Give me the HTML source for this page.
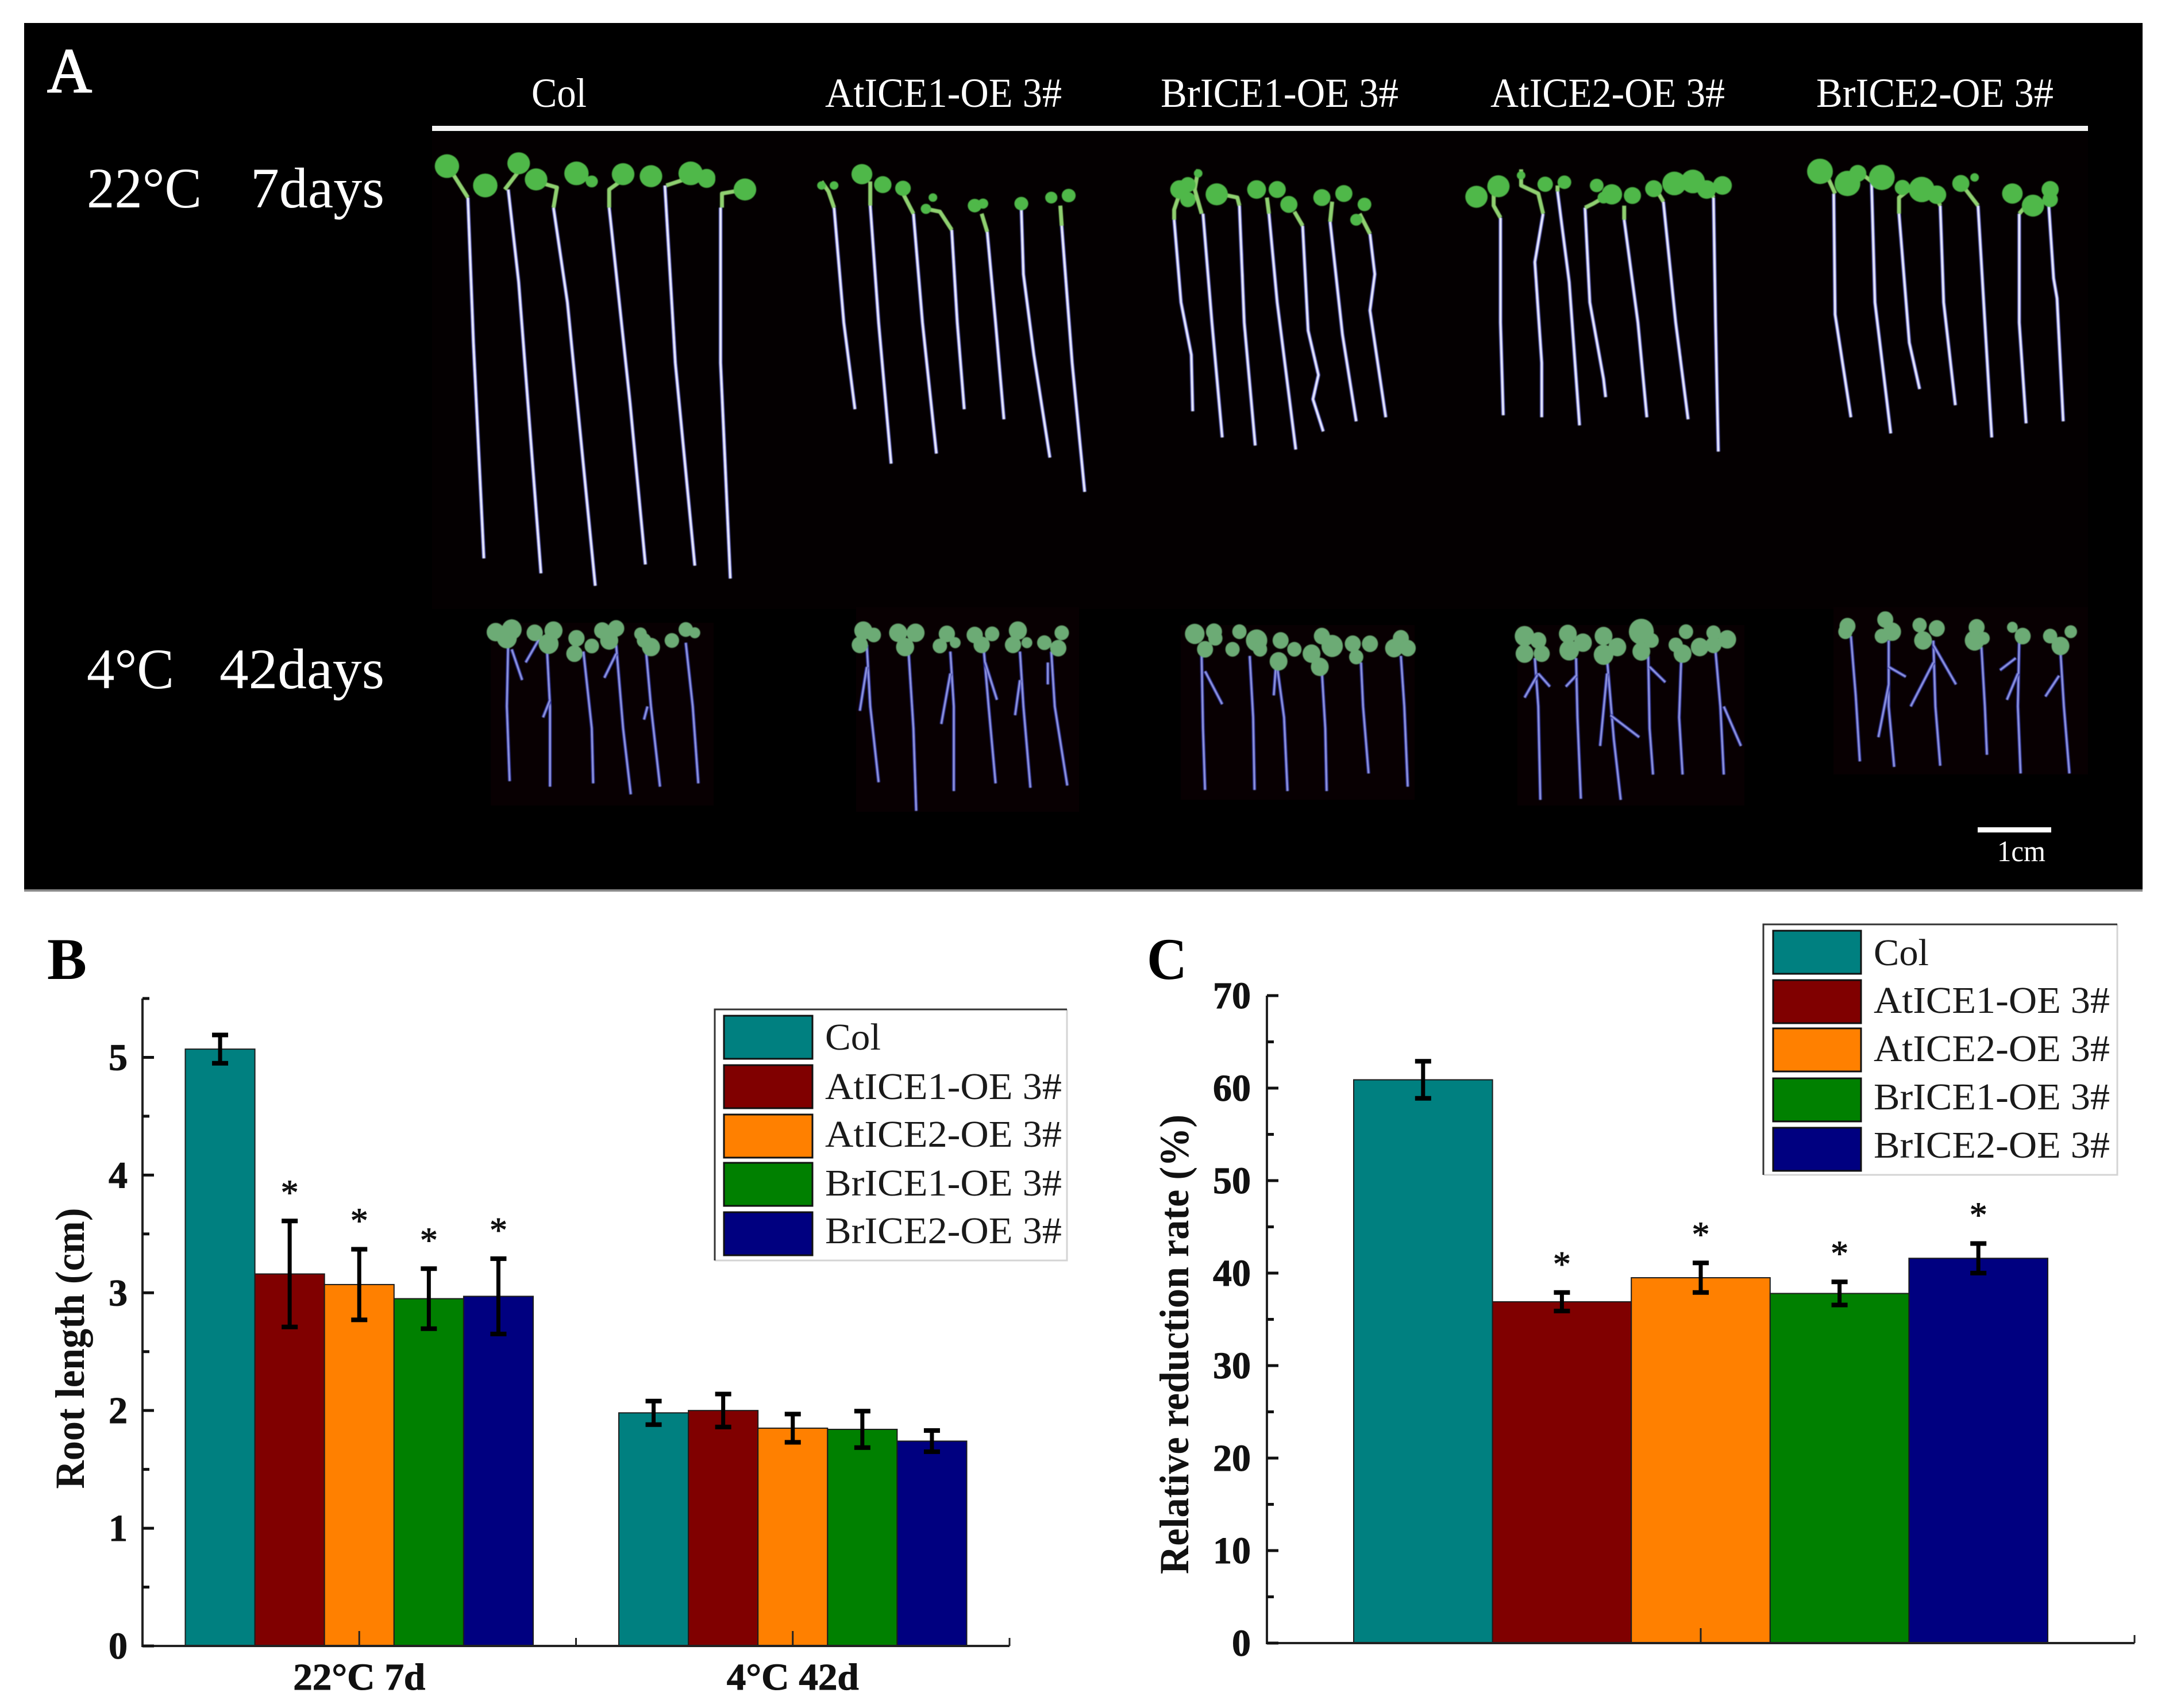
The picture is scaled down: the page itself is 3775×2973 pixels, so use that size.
<!DOCTYPE html>
<html lang="en">
<head>
<meta charset="utf-8">
<title>Root length of ICE over-expression lines</title>
<style>
html,body{margin:0;padding:0;background:#fff;}
svg{display:block;}
text{font-family:"Liberation Serif",serif;}
</style>
</head>
<body>
<svg id="figure" xmlns="http://www.w3.org/2000/svg" width="3775" height="2973" viewBox="0 0 3775 2973">
  <defs>
    <filter id="soft" x="0" y="0" width="100%" height="100%" filterUnits="userSpaceOnUse" primitiveUnits="userSpaceOnUse"><feGaussianBlur stdDeviation="0.9"/></filter>
  </defs>
  <rect width="3775" height="2973" fill="#fff"/>
  <g id="panel-a">
    <rect x="42" y="1547" width="3687" height="5" fill="#8a8a8a"/>
    <rect x="42" y="40" width="3687" height="1508" fill="#000"/>
    <rect x="752" y="230" width="2882" height="830" fill="#040001"/>
    <rect x="854" y="1084" width="388" height="318" fill="#080002"/>
    <rect x="1490" y="1057" width="388" height="356" fill="#080002"/>
    <rect x="2055" y="1088" width="407" height="304" fill="#080002"/>
    <rect x="2641" y="1088" width="395" height="314" fill="#080002"/>
    <rect x="3191" y="1057" width="443" height="291" fill="#080002"/>
    <text x="82" y="160" font-size="110" fill="#fff" stroke="#fff" stroke-width="2" textLength="78" lengthAdjust="spacingAndGlyphs">A</text>
    <text x="925" y="186" font-size="72" fill="#fff" textLength="96" lengthAdjust="spacingAndGlyphs">Col</text>
    <text x="1436" y="186" font-size="72" fill="#fff" textLength="412" lengthAdjust="spacingAndGlyphs">AtICE1-OE 3#</text>
    <text x="2020" y="186" font-size="72" fill="#fff" textLength="414" lengthAdjust="spacingAndGlyphs">BrICE1-OE 3#</text>
    <text x="2594" y="186" font-size="72" fill="#fff" textLength="408" lengthAdjust="spacingAndGlyphs">AtICE2-OE 3#</text>
    <text x="3161" y="186" font-size="72" fill="#fff" textLength="413" lengthAdjust="spacingAndGlyphs">BrICE2-OE 3#</text>
    <rect x="752" y="219" width="2882" height="9" fill="#f4f4f4"/>
    <text x="151" y="361" font-size="100" fill="#fff" textLength="200" lengthAdjust="spacingAndGlyphs">22°C</text>
    <text x="436" y="361" font-size="100" fill="#fff" textLength="233" lengthAdjust="spacingAndGlyphs">7days</text>
    <text x="151" y="1198" font-size="100" fill="#fff" textLength="152" lengthAdjust="spacingAndGlyphs">4°C</text>
    <text x="382" y="1198" font-size="100" fill="#fff" textLength="287" lengthAdjust="spacingAndGlyphs">42days</text>
    <rect x="3442" y="1440" width="128" height="9" fill="#fff"/>
    <text x="3476" y="1499" font-size="52" fill="#fff" textLength="84" lengthAdjust="spacingAndGlyphs">1cm</text>
    <g filter="url(#soft)">
      <g id="seedlings-left-top" transform="scale(1.2117,0.7018)"></g>
      <g id="seedlings-right-top" transform="translate(1900,0) scale(1.1958,0.7018)"></g>
      <g id="seedlings-left-bottom" transform="translate(0,1000) scale(1.2117,0.3827)"></g>
      <g id="seedlings-right-bottom" transform="translate(1900,1000) scale(1.1958,0.3827)"></g>
    </g>
  </g>
  <text x="82" y="1704" font-size="103" font-weight="700" fill="#000" textLength="69" lengthAdjust="spacingAndGlyphs">B</text>
  <text x="1996" y="1704" font-size="103" font-weight="700" fill="#000" textLength="70" lengthAdjust="spacingAndGlyphs">C</text>
  <g id="chart-b"></g>
  <g id="chart-c"></g>
</svg>
<script>
// ---- Chart data: series shared by both charts ----
const seriesNames = ['Col', 'AtICE1-OE 3#', 'AtICE2-OE 3#', 'BrICE1-OE 3#', 'BrICE2-OE 3#'];
const seriesColors = ['#008080', '#800000', '#ff8000', '#008000', '#000080'];

// ---- Chart B: root length (cm) ----
const rootCategories = ['22°C 7d', '4°C 42d'];
const rootTicks = [0, 1, 2, 3, 4, 5];
const rootMinorTicks = [0.5, 1.5, 2.5, 3.5, 4.5, 5.5];
const rootCol = [5.07, 1.98];
const rootAtIce1 = [3.16, 2.00];
const rootAtIce2 = [3.07, 1.85];
const rootBrIce1 = [2.95, 1.84];
const rootBrIce2 = [2.97, 1.74];
const rootColErr = [0.12, 0.10];
const rootAtIce1Err = [0.45, 0.14];
const rootAtIce2Err = [0.30, 0.12];
const rootBrIce1Err = [0.255, 0.155];
const rootBrIce2Err = [0.32, 0.09];
const rootSignificant = [[0, 0], [1, 0], [1, 0], [1, 0], [1, 0]];

// ---- Chart C: relative reduction rate (%) ----
const reductionCategories = [''];
const reductionTicks = [0, 10, 20, 30, 40, 50, 60, 70];
const reductionMinorTicks = [5, 15, 25, 35, 45, 55, 65];
const reductionValues = [60.9, 36.9, 39.5, 37.8, 41.6];
const reductionErrors = [2.0, 1.0, 1.6, 1.25, 1.6];
const reductionSignificant = [0, 1, 1, 1, 1];

const SVGNS = 'http://www.w3.org/2000/svg';
function make(tag, parent, attrs, txt) {
  const e = document.createElementNS(SVGNS, tag);
  for (const k in attrs) e.setAttribute(k, attrs[k]);
  if (txt !== undefined) e.textContent = txt;
  parent.appendChild(e);
  return e;
}

function drawChart(root, cfg) {
  const yScale = v => cfg.y0 - (v - cfg.yMin) * (cfg.y0 - cfg.yTop) / (cfg.yMax - cfg.yMin);
  const band = (cfg.x1 - cfg.x0) / cfg.categories.length;
  const xScale = i => cfg.x0 + band * (i + 0.5);
  const barW = band * cfg.barFrac;

  // bars
  cfg.series.forEach((vals, s) => {
    vals.forEach((v, c) => {
      const left = xScale(c) + (s - 2.5) * barW;
      const bar = make('rect', root, { x: left, y: yScale(v), width: barW, height: cfg.y0 - yScale(v), fill: seriesColors[s], stroke: '#1c1c1c', 'stroke-width': 2 });
      
      
    });
  });

  // axis lines
  const yAxis = make('line', root, { x1: cfg.x0, x2: cfg.x0, y1: cfg.yTop, y2: cfg.y0 + 2, stroke: '#222', 'stroke-width': 4 });
  
  
  const xAxis = make('line', root, { x1: cfg.x0, x2: cfg.x1, y1: cfg.y0, y2: cfg.y0, stroke: '#222', 'stroke-width': 4 });
  
  

  // y ticks + labels
  cfg.ticks.forEach(t => {
    const tick = make('line', root, { x1: cfg.x0, x2: cfg.x0 + 20, y1: yScale(t), y2: yScale(t), stroke: '#111', 'stroke-width': 5 });
    
    
    const label = make('text', root, { x: cfg.x0 - cfg.labelGap, y: yScale(t) + 22, 'text-anchor': 'end', 'font-size': 66, 'font-weight': 700, fill: '#111', stroke: '#111', 'stroke-width': 1 }, String(t));
    
    
  });
  cfg.minorTicks.forEach(t => {
    const tick = make('line', root, { x1: cfg.x0, x2: cfg.x0 + 12, y1: yScale(t), y2: yScale(t), stroke: '#111', 'stroke-width': 5 });
    
    
  });

  // x ticks + labels
  cfg.categories.forEach((name, c) => {
    const tick = make('line', root, { x1: xScale(c), x2: xScale(c), y1: cfg.y0, y2: cfg.y0 - 26, stroke: '#222', 'stroke-width': 3 });
    
    
    if (name) {
      const label = make('text', root, { x: xScale(c), y: cfg.y0 + 76, 'text-anchor': 'middle', 'font-size': 66, 'font-weight': 700, fill: '#111', stroke: '#111', 'stroke-width': 1, textLength: 230, lengthAdjust: 'spacingAndGlyphs' }, name);
      
      
    }
    const edge = make('line', root, { x1: cfg.x0 + band * (c + 1), x2: cfg.x0 + band * (c + 1), y1: cfg.y0, y2: cfg.y0 - 14, stroke: '#222', 'stroke-width': 3 });
    
    
  });

  // error bars + significance stars
  cfg.series.forEach((vals, s) => {
    vals.forEach((v, c) => {
      const cx = xScale(c) + (s - 2) * barW;
      const hi = yScale(v + cfg.errors[s][c]);
      const lo = yScale(v - cfg.errors[s][c]);
      const stem = make('line', root, { x1: cx, x2: cx, y1: hi, y2: lo, stroke: '#000', 'stroke-width': 7 });
      
      
      const capHi = make('line', root, { x1: cx - 14, x2: cx + 14, y1: hi, y2: hi, stroke: '#000', 'stroke-width': 8 });
      
      
      const capLo = make('line', root, { x1: cx - 14, x2: cx + 14, y1: lo, y2: lo, stroke: '#000', 'stroke-width': 8 });
      
      
      if (cfg.significant[s][c]) {
        const star = make('text', root, { x: cx, y: hi - 58 + 29, 'text-anchor': 'middle', 'font-size': 62, fill: '#111', stroke: '#111', 'stroke-width': 1 }, '*');
        
        
      }
    });
  });

  // y title
  const title = make('text', root, { transform: 'translate(' + cfg.titleX + ',' + cfg.titleY + ') rotate(-90)', 'text-anchor': 'middle', 'font-size': 72, 'font-weight': 700, fill: '#111', textLength: cfg.titleLen, lengthAdjust: 'spacingAndGlyphs' }, cfg.title);
  
  

  // legend
  const L = cfg.legend;
  const box = make('g', root, {});
  
  
  const frameBottom = make('path', box, { d: 'M' + L.x0 + ' ' + L.y1 + 'H' + L.x1 + 'V' + L.y0, fill: 'none', stroke: '#d4d4d4', 'stroke-width': 3 });
  
  
  const frameTop = make('path', box, { d: 'M' + L.x0 + ' ' + L.y1 + 'V' + L.y0 + 'H' + L.x1, fill: 'none', stroke: '#333', 'stroke-width': 3 });
  
  
  seriesNames.forEach((name, i) => {
    const sw = make('rect', box, { x: L.swX, y: L.rowTops[i], width: L.swW, height: L.swH, fill: seriesColors[i], stroke: '#111', 'stroke-width': 3 });
    
    
    const lab = make('text', box, { x: L.textX, y: L.baselines[i], 'font-size': 66, fill: '#1a1a1a', textLength: i === 0 ? L.colW : L.textW, lengthAdjust: 'spacingAndGlyphs' }, name);
    
    
  });
}

drawChart(document.getElementById('chart-b'), {
  categories: rootCategories,
  series: [rootCol, rootAtIce1, rootAtIce2, rootBrIce1, rootBrIce2],
  errors: [rootColErr, rootAtIce1Err, rootAtIce2Err, rootBrIce1Err, rootBrIce2Err],
  significant: rootSignificant,
  ticks: rootTicks, minorTicks: rootMinorTicks,
  yMin: 0, yMax: 5.5, x0: 248, x1: 1757, y0: 2865, yTop: 1738,
  barFrac: 0.1605, labelGap: 26,
  title: 'Root length (cm)', titleX: 146, titleY: 2347, titleLen: 489,
  legend: { x0: 1244, x1: 1857, y0: 1757, y1: 2194, swX: 1260, swW: 154, swH: 75,
            rowTops: [1768, 1854, 1940, 2024, 2110], textX: 1436, textW: 412, colW: 97,
            baselines: [1827, 1913, 1996, 2081, 2164] }
});

drawChart(document.getElementById('chart-c'), {
  categories: reductionCategories,
  series: reductionValues.map(v => [v]),
  errors: reductionErrors.map(v => [v]),
  significant: reductionSignificant.map(v => [v]),
  ticks: reductionTicks, minorTicks: reductionMinorTicks,
  yMin: 0, yMax: 70, x0: 2205, x1: 3715, y0: 2860, yTop: 1733,
  barFrac: 0.16, labelGap: 28,
  title: 'Relative reduction rate (%)', titleX: 2068, titleY: 2340, titleLen: 800,
  legend: { x0: 3069, x1: 3685, y0: 1609, y1: 2045, swX: 3086, swW: 153, swH: 75,
            rowTops: [1620, 1706, 1790, 1877, 1963], textX: 3261, textW: 411, colW: 96,
            baselines: [1680, 1763, 1847, 1931, 2015] }
});

// ---- Photo panel: seedlings sketched in vector form ----
// Each plant: [leaves [x,y,r], stem points, root points, optional side roots]
const topLeft = [
 [[[642,412,14],[697,460,14]],'650,430 672,490','672,490 680,850 695,1385'],
 [[[745,405,13],[697,460,14]],'745,425 725,470','730,470 745,700 777,1422'],
 [[[770,445,13],[828,430,14]],'770,450 800,465 795,515','795,515 815,750 855,1453'],
 [[[895,432,13],[850,450,7]],'895,445 875,470 875,515','875,515 905,1000 927,1400'],
 [[[935,437,13],[992,430,14],[1015,440,10]],'992,440 957,460','955,460 970,900 998,1403'],
 [[[1015,445,10],[1070,470,13]],'1070,470 1037,480 1037,515','1035,515 1035,900 1049,1435'],
 [[[1180,460,5],[1198,460,5]],'1180,450 1190,475 1198,515','1198,515 1212,800 1228,1015'],
 [[[1238,432,12],[1268,458,10]],'1250,450 1250,510','1250,510 1262,800 1280,1150'],
 [[[1297,467,9]],'1297,480 1312,530','1312,530 1325,800 1345,1125'],
 [[[1340,490,5],[1330,518,6]],'1330,518 1350,525 1367,570','1367,570 1375,800 1385,1015'],
 [[[1400,510,8],[1412,505,6]],'1410,530 1418,575','1418,575 1430,800 1442,1040'],
 [[[1467,505,8]],'1467,505 1467,520','1467,520 1470,680 1485,880 1508,1135'],
 [[[1510,490,7],[1535,485,8]],'1523,510 1525,560','1525,560 1540,900 1558,1220']
];
const topRight = [
 [[[128,470,11],[140,495,9]],'128,480 120,520 120,545','120,545 130,750 145,880 147,1020'],
 [[[155,430,5],[140,458,9]],'155,420 150,470 160,530','162,530 175,800 190,1085'],
 [[[182,482,13]],'190,482 212,490 215,510','215,510 222,800 238,1105'],
 [[[240,470,11],[270,470,10]],'255,490 258,530','258,530 270,750 297,1115'],
 [[[287,507,10]],'295,525 307,560','307,560 315,820 330,930 322,990 337,1070'],
 [[[335,490,10],[367,480,10]],'350,500 347,550','347,550 365,830 385,1045'],
 [[[397,507,8],[385,545,7]],'390,530 405,580','405,580 412,680 405,770 428,1035'],
 [[[560,488,13],[592,462,13]],'585,480 585,510 595,540','595,540 595,800 599,1030'],
 [[[625,435,5]],'625,420 625,460 650,480 657,530','657,530 645,650 655,900 655,1035'],
 [[[660,457,9],[688,452,8]],'678,460 678,475','678,475 695,700 710,1055'],
 [[[735,460,8],[745,490,7]],'745,490 730,505 718,515','718,515 725,750 745,940 748,985'],
 [[[757,482,12],[787,485,10]],'775,510 775,545','775,545 795,800 808,1035'],
 [[[818,468,10],[848,455,14],[875,450,14]],'825,480 832,500','832,500 850,800 868,1040'],
 [[[895,470,11],[918,460,11]],'900,470 905,490','905,490 908,800 912,1120'],
 [[[1060,425,15],[1100,455,15]],'1070,435 1082,480','1080,480 1082,780 1105,1035'],
 [[[1115,430,10],[1150,440,15]],'1120,430 1135,450','1135,450 1140,750 1163,1075'],
 [[[1180,465,9],[1208,470,15]],'1190,470 1175,490 1175,530','1175,530 1190,850 1205,965'],
 [[[1230,483,11],[1205,465,9]],'1220,480 1232,500 1235,510','1235,510 1240,750 1257,1005'],
 [[[1265,455,10],[1285,440,5]],'1272,470 1290,510','1290,510 1300,800 1310,1085'],
 [[[1340,480,12],[1370,510,13]],'1360,510 1350,530','1350,530 1350,800 1360,1050'],
 [[[1395,470,10],[1395,495,9]],'1393,480 1393,510','1393,510 1400,690 1405,740 1414,1045']
];
const bottomLeft = [
 [[[712,262,10],[735,250,11],[728,290,11]],'730,300 728,600 732,940',['735,340 750,480']],
 [[[768,265,9],[795,255,10],[788,315,11]],'785,300 790,600 790,965',['775,290 755,400','790,570 780,650']],
 [[[828,290,9],[850,325,8],[825,360,9]],'838,350 850,700 852,950',[]],
 [[[865,255,9],[885,245,9],[875,300,10]],'885,320 895,700 906,1000',['885,360 868,470']],
 [[[920,270,7],[935,330,10],[925,300,8]],'928,350 935,600 948,965',['930,600 925,660']],
 [[[965,300,8],[985,250,8],[998,265,6]],'985,310 995,600 1003,950',[]],
 [[[1240,255,10],[1255,275,8],[1235,320,9]],'1245,320 1250,600 1262,945',['1245,420 1235,620']],
 [[[1290,265,10],[1315,265,10],[1300,330,10]],'1305,350 1312,700 1316,1075',[]],
 [[[1360,270,9],[1350,325,8],[1372,310,6]],'1365,350 1370,600 1370,985',['1365,450 1352,680']],
 [[[1400,275,9],[1425,270,8],[1410,320,9]],'1413,340 1420,600 1430,950',['1415,400 1432,570']],
 [[[1462,255,10],[1455,320,9],[1475,310,6]],'1465,350 1470,600 1480,970',['1465,480 1458,640']],
 [[[1500,310,8],[1525,265,8],[1520,335,9]],'1510,350 1515,600 1533,960',['1505,400 1505,500']]
];
const bottomRight = [
 [[[150,270,11],[178,260,9],[165,340,9],[180,290,8]],'160,370 162,700 165,980',['165,440 190,590']],
 [[[215,260,8],[240,300,12],[205,340,8],[245,340,8]],'230,370 235,650 237,980',[]],
 [[[275,300,9],[295,340,8],[272,395,10]],'270,420 280,650 285,985',['268,420 265,550']],
 [[[335,280,9],[350,325,12],[320,360,10],[332,420,10]],'335,440 340,700 342,985',[]],
 [[[380,315,9],[405,315,9],[385,375,8]],'392,400 395,600 403,905',[]],
 [[[450,290,9],[440,335,10],[460,335,9]],'450,370 455,600 460,965',[]],
 [[[630,280,11],[650,300,9],[630,360,10],[655,360,9]],'645,380 650,600 653,1025',['650,450 630,560','650,450 667,510']],
 [[[693,270,10],[715,310,10],[695,345,11]],'705,380 707,650 712,1020',['705,460 690,510']],
 [[[745,280,10],[765,330,10],[745,365,11]],'750,380 760,750 770,1025',['750,450 740,780','755,640 797,740']],
 [[[800,260,14],[815,300,8],[800,350,10]],'810,370 812,700 817,910',['812,420 835,490']],
 [[[865,260,8],[860,360,10],[850,320,8],[885,330,10]],'858,390 855,650 860,910',[]],
 [[[905,265,8],[925,295,10],[905,320,9]],'908,350 915,600 920,910',['920,600 945,780']],
 [[[1100,235,9],[1097,260,8]],'1105,280 1112,550 1118,850',[]],
 [[[1155,205,9],[1165,260,10],[1150,280,8]],'1160,300 1160,600 1168,875',['1160,420 1185,465','1160,500 1145,740']],
 [[[1205,230,8],[1230,245,9],[1210,300,10]],'1225,300 1228,600 1235,870',['1225,400 1192,600','1225,320 1258,500']],
 [[[1288,240,9],[1285,300,11],[1298,290,7]],'1295,330 1300,600 1303,820',[]],
 [[[1340,240,6],[1355,280,9]],'1350,300 1348,600 1352,905',['1345,380 1322,435','1348,450 1332,570']],
 [[[1395,280,8],[1425,260,7],[1410,325,10]],'1410,350 1415,600 1423,905',['1408,460 1388,555']]
];

function drawTopRow(host, plants) {
  plants.forEach(p => {
    const g = make('g', host, {});
    
    
    const halo = make('polyline', g, { points: p[2], fill: 'none', stroke: '#5a5cc8', 'stroke-width': 6.5, 'stroke-linejoin': 'round', 'vector-effect': 'non-scaling-stroke' });
    
    
    const core = make('polyline', g, { points: p[2], fill: 'none', stroke: '#eceeff', 'stroke-width': 3.5, 'stroke-linejoin': 'round', 'vector-effect': 'non-scaling-stroke' });
    
    
    const stem = make('polyline', g, { points: p[1], fill: 'none', stroke: '#8fd070', 'stroke-width': 7, 'stroke-linejoin': 'round', 'vector-effect': 'non-scaling-stroke' });
    
    
    p[0].forEach(l => {
      const leaf = make('ellipse', g, { cx: l[0], cy: l[1], rx: l[2] * 1.25, ry: l[2] * 2.1, fill: '#50b848' });
      
      
    });
  });
}
function drawBottomRow(host, plants) {
  plants.forEach(p => {
    const g = make('g', host, {});
    
    
    [p[1]].concat(p[2]).forEach(pts => {
      const halo = make('polyline', g, { points: pts, fill: 'none', stroke: '#2d33a0', 'stroke-width': 6, 'stroke-linejoin': 'round', 'vector-effect': 'non-scaling-stroke' });
      
      
      const core = make('polyline', g, { points: pts, fill: 'none', stroke: '#9aa0e8', 'stroke-width': 2.5, 'stroke-linejoin': 'round', 'vector-effect': 'non-scaling-stroke' });
      
      
    });
    p[0].forEach(l => {
      const leaf = make('ellipse', g, { cx: l[0], cy: l[1], rx: l[2] * 1.3, ry: l[2] * 4.2, fill: '#6cab74' });
      
      
    });
  });
}
drawTopRow(document.getElementById('seedlings-left-top'), topLeft);
drawTopRow(document.getElementById('seedlings-right-top'), topRight);
drawBottomRow(document.getElementById('seedlings-left-bottom'), bottomLeft);
drawBottomRow(document.getElementById('seedlings-right-bottom'), bottomRight);
</script>
</body>
</html>
